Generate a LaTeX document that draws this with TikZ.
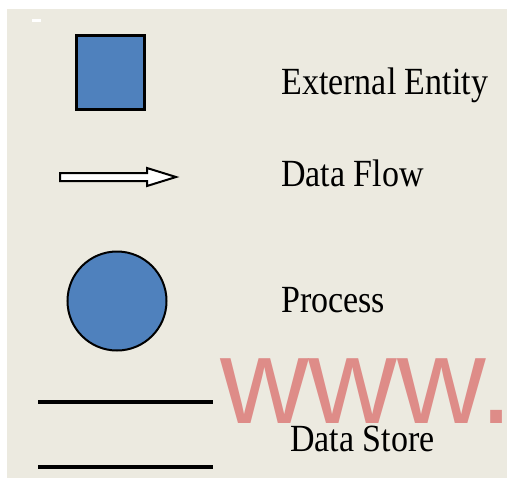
\documentclass[tikz,border=0pt]{standalone}
\usepackage{fontspec}
\setmainfont{Liberation Serif}
\newfontfamily\wfont{Liberation Sans}
\definecolor{bgbeige}{RGB}{236,234,224}
\definecolor{entblue}{RGB}{79,129,189}
\definecolor{wpink}{RGB}{222,140,136}
\begin{document}
\begin{tikzpicture}[x=0.75pt,y=-0.75pt,
  lbl/.style={anchor=base west,inner sep=0pt,font=\fontsize{25.5}{30}\selectfont},
  entity/.style={draw=black,line width=2.25pt,fill=entblue,minimum width=68*0.75pt,minimum height=74*0.75pt,inner sep=0pt},
  proc/.style={circle,draw=black,line width=1.5pt,fill=entblue,minimum size=99*0.75pt,inner sep=0pt},
  storeline/.style={line width=3pt,black}]
\useasboundingbox (0,0) rectangle (507,480);
\fill[white] (0,0) rectangle (507,480);
\fill[bgbeige] (7,9) rectangle (507,478);
\fill[white] (32,19) rectangle (41,22);
% external entity
\node[entity] (ent) at (110.5,72.5) {};
\node[lbl] (entl) at (281,94) {\scalebox{1}[1.13]{External Entity}};
% data flow arrow
\coordinate (fa) at (60,173);
\draw[line width=1.5pt,fill=white,line join=miter] (fa) -- (147,173) -- (147,168) -- (176,177) -- (147,186) -- (147,181) -- (60,181) -- cycle;
\node[lbl] (flowl) at (281,186.7) {\scalebox{1}[1.13]{Data Flow}};
% process
\node[proc] (pr) at (117,301) {};
\node[lbl] (prl) at (281,312.3) {\scalebox{1}[1.13]{Process}};
% watermark
\node[anchor=base west,inner sep=0pt,text=wpink,font=\wfont\fontsize{92}{100}\selectfont] (www) at (220,423) {www.};
% data store
\coordinate (s1a) at (38,402);
\coordinate (s1b) at (213,402);
\coordinate (s2a) at (38,467);
\coordinate (s2b) at (213,467);
\draw[storeline] (s1a) -- (s1b);
\draw[storeline] (s2a) -- (s2b);
\node[lbl] (dsl) at (290,451.7) {\scalebox{1}[1.13]{Data Store}};
\end{tikzpicture}
\end{document}
